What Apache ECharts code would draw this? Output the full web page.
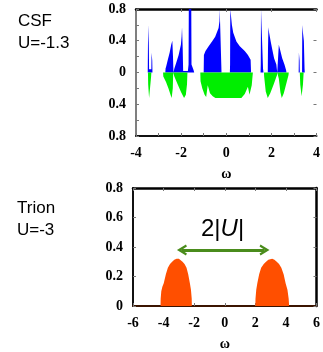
<!DOCTYPE html>
<html>
<head>
<meta charset="utf-8">
<script src="https://cdn.jsdelivr.net/npm/echarts@6/dist/echarts.min.js"></script>
<style>
  html, body { margin: 0; padding: 0; background: #fff; }
  #chart { width: 323px; height: 352px; }
</style>
</head>
<body>
<div id="chart"></div>
<script>
// CSF, U=-1.3 : spectral weight, blue above zero, green below
var csfUp = [
  [-4, 0], [-3.48, 0], [-3.47, 0.35], [-3.45, 0.6], [-3.43, 0.3], [-3.42, 0.04], [-3.32, 0.04],
  [-3.31, 0.25], [-3.28, 0.15], [-3.27, 0],
  [-2.70, 0], [-2.69, 0.05], [-2.66, 0.08], [-2.59, 0.16], [-2.51, 0.25], [-2.44, 0.35], [-2.39, 0.40], [-2.36, 0.2], [-2.34, 0],
  [-2.31, 0], [-2.30, 0.05], [-2.22, 0.12], [-2.11, 0.22], [-2.01, 0.35], [-1.98, 0.45], [-1.96, 0.57], [-1.93, 0.3], [-1.91, 0.02],
  [-1.70, 0.02], [-1.67, 0.1], [-1.66, 0.8], [-1.55, 0.8], [-1.54, 0.1], [-1.45, 0.03], [-1.42, 0],
  [-1.00, 0], [-0.99, 0.22], [-0.92, 0.27], [-0.78, 0.33], [-0.63, 0.39], [-0.49, 0.45], [-0.34, 0.56], [-0.30, 0.65],
  [-0.29, 0.8], [-0.24, 0.8], [-0.22, 0.1], [-0.21, 0],
  [0.16, 0], [0.17, 0.1], [0.18, 0.8], [0.23, 0.8], [0.25, 0.6], [0.31, 0.5], [0.45, 0.39], [0.60, 0.33],
  [0.82, 0.27], [0.96, 0.22], [1.08, 0.16], [1.10, 0],
  [1.52, 0], [1.53, 0.1], [1.54, 0.8], [1.61, 0.8], [1.63, 0.05], [1.65, 0],
  [1.84, 0], [1.85, 0.3], [1.87, 0.57], [1.90, 0.5], [1.97, 0.39], [2.04, 0.29], [2.12, 0.18], [2.22, 0.10], [2.26, 0],
  [2.31, 0], [2.33, 0.35], [2.40, 0.27], [2.48, 0.18], [2.58, 0.10], [2.65, 0.03], [2.67, 0],
  [3.21, 0], [3.22, 0.25], [3.25, 0.15], [3.26, 0],
  [3.36, 0], [3.37, 0.6], [3.40, 0.5], [3.44, 0.4], [3.47, 0.05], [3.48, 0], [4, 0]
];
var csfDown = [
  [-4, 0], [-3.47, 0], [-3.46, -0.15], [-3.42, -0.32], [-3.38, -0.2], [-3.33, -0.05], [-3.32, 0],
  [-2.80, 0], [-2.79, -0.05], [-2.67, -0.12], [-2.56, -0.2], [-2.47, -0.28], [-2.42, -0.32], [-2.37, -0.2], [-2.35, 0],
  [-2.31, 0], [-2.30, -0.05], [-2.15, -0.15], [-2.0, -0.25], [-1.87, -0.32], [-1.79, -0.28], [-1.74, -0.15], [-1.72, 0],
  [-1.15, 0], [-1.14, -0.11], [-1.06, -0.2], [-0.96, -0.28], [-0.89, -0.31], [-0.82, -0.16], [-0.72, -0.26],
  [-0.60, -0.3], [-0.48, -0.32], [0.67, -0.32], [0.82, -0.27], [0.96, -0.18], [1.03, -0.28], [1.13, -0.16], [1.18, 0],
  [1.67, 0], [1.68, -0.05], [1.75, -0.24], [1.84, -0.32], [1.95, -0.26], [2.10, -0.15], [2.25, -0.03], [2.26, 0],
  [2.32, 0], [2.33, -0.08], [2.40, -0.25], [2.46, -0.32], [2.55, -0.26], [2.68, -0.12], [2.76, -0.03], [2.77, 0],
  [3.26, 0], [3.28, -0.15], [3.34, -0.30], [3.40, -0.15], [3.43, 0], [4, 0]
];

// Trion, U=-3 : two bands
var trionDos = [
  [-6, 0], [-4.20, 0], [-4.19, 0.05], [-4.15, 0.10], [-4.08, 0.13], [-3.99, 0.155], [-3.85, 0.215], [-3.72, 0.26],
  [-3.58, 0.285], [-3.44, 0.30], [-3.30, 0.313], [-3.15, 0.32], [-3.00, 0.32], [-2.88, 0.313], [-2.76, 0.30],
  [-2.63, 0.285], [-2.50, 0.26], [-2.39, 0.215], [-2.28, 0.155], [-2.21, 0.11], [-2.16, 0.05], [-2.15, 0],
  [2.00, 0], [2.01, 0.05], [2.06, 0.11], [2.13, 0.155], [2.25, 0.215], [2.38, 0.26], [2.55, 0.285], [2.70, 0.30],
  [2.85, 0.313], [2.95, 0.32], [3.10, 0.32], [3.25, 0.313], [3.40, 0.30], [3.55, 0.285], [3.70, 0.26],
  [3.85, 0.215], [3.98, 0.155], [4.10, 0.11], [4.18, 0.05], [4.21, 0], [6, 0]
];
var gapArrow = [-2.8, 2.6];
var gapArrowY = 0.38;

var tickFont = { fontFamily: 'Liberation Serif', fontWeight: 'bold', fontSize: 14, color: '#000' };
var sansFont = 'Liberation Sans, Arial, sans-serif';
var chevron = 'path://M0,9 L5,0 L10,9 L8.2,10 L5,4.6 L1.8,10 Z';

var myChart = echarts.init(document.getElementById('chart'));

function fmtNum(v) {
  var a = Math.abs(v);
  return a === 0 ? '0' : (Math.round(a * 10) / 10).toString();
}

var option = {
  animation: false,
  grid: [
    { left: 136, top: 9, width: 184, height: 127 },
    { left: 133, top: 188, width: 185, height: 129 }
  ],
  xAxis: [
    {
      gridIndex: 0, type: 'value', min: -4, max: 4, interval: 2,
      name: 'ω', nameLocation: 'middle', nameGap: 31,
      nameTextStyle: tickFont,
      axisLine: { onZero: false, lineStyle: { color: '#111', width: 2 } },
      axisTick: { inside: true, length: 3, lineStyle: { color: '#777' } },
      minorTick: { show: true, splitNumber: 2, length: 3, lineStyle: { color: '#777' } },
      axisLabel: Object.assign({ margin: 10, showMaxLabel: true, showMinLabel: true }, tickFont),
      splitLine: { show: false }
    },
    {
      gridIndex: 0, type: 'value', min: -4, max: 4, interval: 2, position: 'top',
      axisLine: { onZero: false, lineStyle: { color: '#000', width: 2.5 } },
      axisTick: { inside: true, length: 3, lineStyle: { color: '#777' } },
      axisLabel: { show: false }, splitLine: { show: false }
    },
    {
      gridIndex: 1, type: 'value', min: -6, max: 6, interval: 2,
      name: 'ω', nameLocation: 'middle', nameGap: 31,
      nameTextStyle: tickFont,
      axisLine: { onZero: false, lineStyle: { color: '#3b1400', width: 2 } },
      axisTick: { inside: true, length: 3, lineStyle: { color: '#777' } },
      axisLabel: Object.assign({ margin: 10, showMaxLabel: true, showMinLabel: true }, tickFont),
      splitLine: { show: false }
    },
    {
      gridIndex: 1, type: 'value', min: -6, max: 6, interval: 2, position: 'top',
      axisLine: { onZero: false, lineStyle: { color: '#000', width: 2.5 } },
      axisTick: { inside: true, length: 3, lineStyle: { color: '#777' } },
      axisLabel: { show: false }, splitLine: { show: false }
    }
  ],
  yAxis: [
    {
      gridIndex: 0, type: 'value', min: -0.8, max: 0.8, interval: 0.4,
      axisLine: { show: true, onZero: false, lineStyle: { color: '#555', width: 1.5 } },
      axisTick: { inside: true, length: 3, lineStyle: { color: '#777' } },
      minorTick: { show: true, splitNumber: 2, length: 3, lineStyle: { color: '#777' } },
      axisLabel: Object.assign({ margin: 10, formatter: fmtNum }, tickFont),
      splitLine: { show: false }
    },
    {
      gridIndex: 0, type: 'value', min: -0.8, max: 0.8, interval: 0.4, position: 'right',
      axisLine: { show: false, onZero: false },
      axisTick: { show: true, inside: true, length: 3, lineStyle: { color: '#777' } },
      axisLabel: { show: false }, splitLine: { show: false }
    },
    {
      gridIndex: 1, type: 'value', min: 0, max: 0.8, interval: 0.2,
      axisLine: { show: true, onZero: false, lineStyle: { color: '#111', width: 2 } },
      axisTick: { inside: true, length: 3, lineStyle: { color: '#777' } },
      axisLabel: Object.assign({ margin: 10, formatter: fmtNum }, tickFont),
      splitLine: { show: false }
    },
    {
      gridIndex: 1, type: 'value', min: 0, max: 0.8, interval: 0.2, position: 'right',
      axisLine: { show: true, onZero: false, lineStyle: { color: '#000', width: 2.5 } },
      axisTick: { show: true, inside: true, length: 3, lineStyle: { color: '#777' } },
      axisLabel: { show: false }, splitLine: { show: false }
    }
  ],
  series: [
    {
      type: 'line', xAxisIndex: 0, yAxisIndex: 0, data: csfUp,
      showSymbol: false, silent: true,
      lineStyle: { width: 0 }, itemStyle: { color: '#0000ff' },
      areaStyle: { color: '#0000ff', opacity: 1 }
    },
    {
      type: 'line', xAxisIndex: 0, yAxisIndex: 0, data: csfDown,
      showSymbol: false, silent: true,
      lineStyle: { width: 0 }, itemStyle: { color: '#00ee00' },
      areaStyle: { color: '#00ee00', opacity: 1 }
    },
    {
      type: 'line', xAxisIndex: 2, yAxisIndex: 2, data: trionDos,
      showSymbol: false, silent: true,
      lineStyle: { width: 0 }, itemStyle: { color: '#ff4f00' },
      areaStyle: { color: '#ff4f00', opacity: 1 },
      markLine: {
        silent: true,
        symbol: [chevron, chevron],
        symbolSize: [11, 10],
        label: { show: false },
        lineStyle: { color: '#4a8c1c', width: 3, type: 'solid' },
        emphasis: { disabled: true },
        data: [[{ coord: [gapArrow[0], gapArrowY] }, { coord: [gapArrow[1], gapArrowY] }]]
      }
    }
  ],
  graphic: [
    { type: 'text', left: 18, top: 13, style: { text: 'CSF', font: '17px ' + sansFont, fill: '#000' } },
    { type: 'text', left: 18, top: 35, style: { text: 'U=-1.3', font: '17px ' + sansFont, fill: '#000' } },
    { type: 'text', left: 17, top: 200, style: { text: 'Trion', font: '17px ' + sansFont, fill: '#000' } },
    { type: 'text', left: 17, top: 222, style: { text: 'U=-3', font: '17px ' + sansFont, fill: '#000' } },
    {
      type: 'text', left: 201, top: 217,
      style: {
        text: '{a|2|}{b|U}{a||}',
        rich: {
          a: { fontFamily: sansFont, fontSize: 24, fill: '#000' },
          b: { fontFamily: sansFont, fontSize: 24, fontStyle: 'italic', fill: '#000' }
        }
      }
    }
  ]
};

myChart.setOption(option);
</script>
</body>
</html>
